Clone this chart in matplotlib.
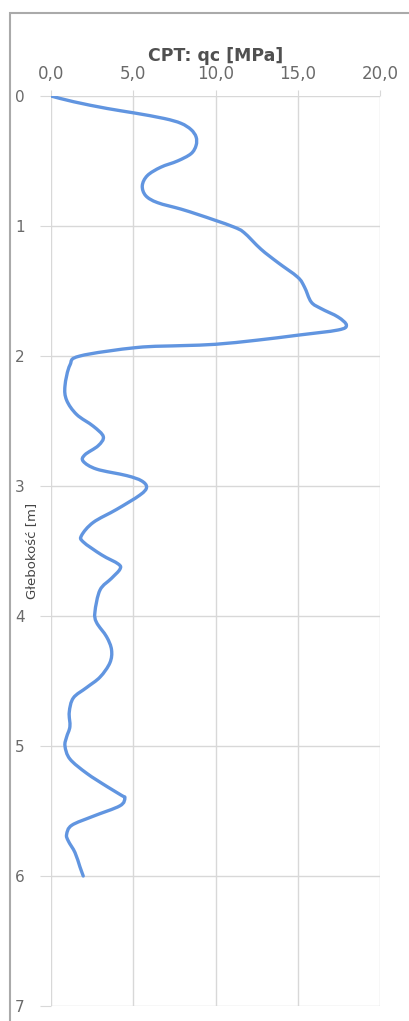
import matplotlib
matplotlib.use("Agg")
import matplotlib.pyplot as plt
from matplotlib.patches import Rectangle, PathPatch
from matplotlib.path import Path

# Data (qc [MPa] vs depth [m])
qc = [0.0, 1.37, 3.41, 5.04, 6.88, 7.9, 8.51, 8.82, 8.82, 8.51, 7.69, 6.67, 5.86, 5.55,
      5.76, 6.47, 7.9, 8.9, 10.0, 11.12, 11.73, 12.76, 13.78, 15.0, 15.41, 15.82, 16.43,
      17.45, 17.96, 17.45, 15.0, 12.55, 10.0, 8.0, 5.2, 1.76, 1.15, 0.85, 0.95, 1.56,
      2.57, 3.18, 2.87, 2.06, 1.96, 2.77, 4.6, 5.5, 5.81, 5.4, 3.99, 2.57, 1.86, 1.96,
      3.08, 4.09, 4.19, 3.68, 2.98, 2.67, 2.77, 3.38, 3.68, 3.58, 2.98, 2.17, 1.36, 1.11,
      1.15, 0.95, 0.85, 1.15, 2.17, 3.38, 4.29, 4.49, 4.19, 2.57, 1.26, 0.95, 1.05, 1.46,
      1.76, 1.96]
depth = [0.0, 0.044, 0.096, 0.13, 0.173, 0.21, 0.258, 0.315, 0.38, 0.444, 0.50, 0.548,
         0.612, 0.69, 0.767, 0.82, 0.87, 0.91, 0.957, 1.008, 1.05, 1.178, 1.28, 1.394,
         1.47, 1.585, 1.636, 1.70, 1.763, 1.80, 1.84, 1.878, 1.91, 1.92, 1.935, 2.0, 2.07,
         2.23, 2.34, 2.45, 2.54, 2.62, 2.69, 2.76, 2.81, 2.87, 2.92, 2.96, 3.01, 3.07,
         3.18, 3.28, 3.38, 3.43, 3.53, 3.60, 3.64, 3.71, 3.80, 3.97, 4.05, 4.16, 4.26,
         4.36, 4.47, 4.55, 4.63, 4.74, 4.85, 4.93, 5.0, 5.10, 5.21, 5.31, 5.38, 5.40,
         5.46, 5.54, 5.61, 5.68, 5.73, 5.82, 5.93, 6.0]

x_ticks = [0, 5, 10, 15, 20]
x_ticklabels = ["0,0", "5,0", "10,0", "15,0", "20,0"]
y_ticks = [0, 1, 2, 3, 4, 5, 6, 7]

title = "CPT: qc [MPa]"
ylabel = "Głebokość [m]"


def smooth_path(xs, ys):
    """Excel-style smoothed line: cubic Bezier segments through the data points."""
    pts = list(zip(xs, ys))
    n = len(pts)
    verts = [pts[0]]
    codes = [Path.MOVETO]
    for i in range(n - 1):
        p0 = pts[i - 1] if i > 0 else pts[i]
        p1 = pts[i]
        p2 = pts[i + 1]
        p3 = pts[i + 2] if i + 2 < n else pts[i + 1]
        c1 = (p1[0] + (p2[0] - p0[0]) / 6.0, p1[1] + (p2[1] - p0[1]) / 6.0)
        c2 = (p2[0] - (p3[0] - p1[0]) / 6.0, p2[1] - (p3[1] - p1[1]) / 6.0)
        verts += [c1, c2, p2]
        codes += [Path.CURVE4] * 3
    return Path(verts, codes)


W, H = 410, 1021
fig = plt.figure(figsize=(W / 100, H / 100), dpi=100)
fig.patch.set_facecolor("white")

# outer frame
fig.patches.append(Rectangle((10 / W, -0.05), 1.2, 1 - 13 / H + 0.05,
                             transform=fig.transFigure, fill=False,
                             edgecolor="#aaaaaa", linewidth=1.5))

ax = fig.add_axes([51 / W, 1 - 1006 / H, (380 - 51) / W, (1006 - 96) / H])
ax.add_patch(PathPatch(smooth_path(qc, depth), facecolor="none",
                       edgecolor="#6195e0", linewidth=2.4, capstyle="round",
                       joinstyle="round", zorder=3))

ax.set_xlim(0, 20)
ax.set_ylim(7, 0)
ax.xaxis.tick_top()
ax.xaxis.set_label_position("top")
ax.set_xticks(x_ticks)
ax.set_xticklabels(x_ticklabels)
ax.set_yticks(y_ticks)

for s in ax.spines.values():
    s.set_visible(False)

ax.grid(True, color="#d8d8d8", linewidth=1.0, zorder=0)
ax.tick_params(axis="x", length=4, color="#d8d8d8", pad=5, labelsize=12,
               labelcolor="#6a6a6a")
ax.tick_params(axis="y", length=8, color="#d8d8d8", pad=11, labelsize=11,
               labelcolor="#6a6a6a")
for lbl in ax.get_xticklabels() + ax.get_yticklabels():
    lbl.set_fontfamily("DejaVu Sans")

ax.set_title(title, fontsize=12.5, fontweight="bold", color="#505050",
             family="DejaVu Sans", pad=25)
ax.set_ylabel(ylabel, fontsize=9.5, color="#444444", family="DejaVu Sans")
ax.yaxis.label.set_va("center")
ax.yaxis.set_label_coords((32 - 51) / (380 - 51), 0.5)

fig.savefig("out.png", dpi=100, facecolor="white")
